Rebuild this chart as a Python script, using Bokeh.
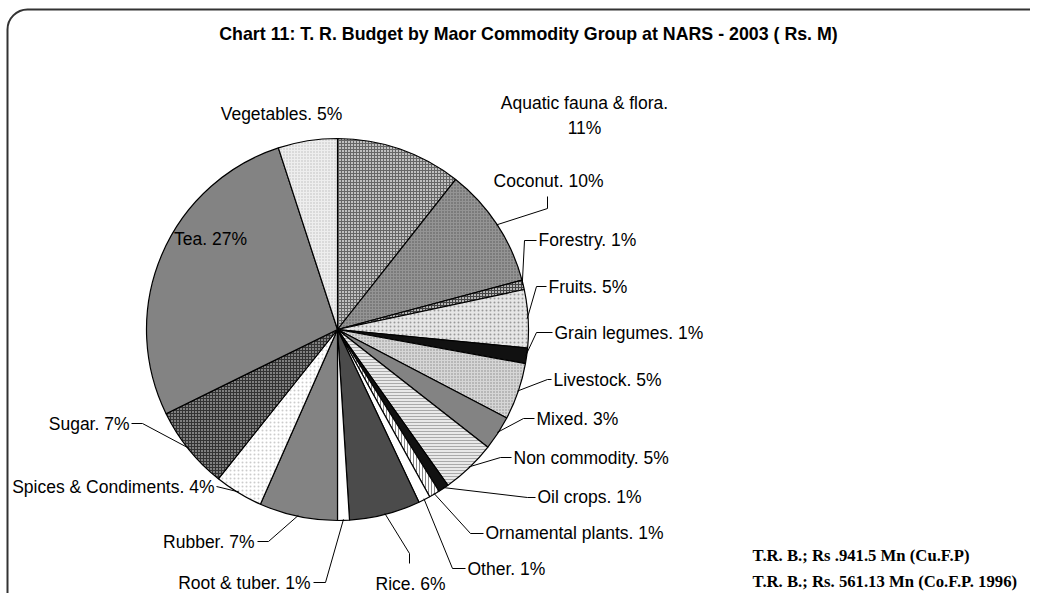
import numpy as np
from bokeh.plotting import figure
from bokeh.models import ColumnDataSource, BoxAnnotation, Range1d
from bokeh.core.properties import value
from bokeh.embed import file_html
from bokeh.resources import INLINE

# ---------------- data ----------------
categories = ["Aquatic fauna & flora", "Coconut", "Forestry", "Fruits", "Grain legumes",
              "Livestock", "Mixed", "Non commodity", "Oil crops", "Ornamental plants",
              "Other", "Rice", "Root & tuber", "Rubber", "Spices & Condiments",
              "Sugar", "Tea", "Vegetables"]
shares = [10.6, 10.2, 0.8, 4.9, 1.3, 4.8, 2.9, 4.6, 0.9, 0.9,
          1.0, 6.0, 1.0, 6.6, 4.1, 7.0, 27.2, 5.0]
title_text = "Chart 11: T. R. Budget by Maor Commodity Group at NARS - 2003 ( Rs. M)"
note_lines = ["T.R. B.; Rs .941.5 Mn (Cu.F.P)", "T.R. B.; Rs. 561.13 Mn (Co.F.P. 1996)"]

# ---------------- styles ----------------
fills   = ["#c0c0c0", "#949494", "#b4b4b4", "#e6e6e6", "#111111", "#d6d6d6", "#838383", "#e9e9e9",
           "#111111", "#ffffff", "#ffffff", "#4b4b4b", "#ffffff", "#838383", "#ffffff", "#808080",
           "#838383", "#eeeeee"]
hatches = ["cross", "dot", "cross", "dot", " ", "dot", " ", "horizontal_line",
           " ", "vertical_line", " ", " ", " ", " ", "dot", "cross", " ", "dot"]
hcolors = ["#666666", "#555555", "#444444", "#999999", "#000000", "#888888", "#000000", "#aaaaaa",
           "#000000", "#888888", "#000000", "#000000", "#000000", "#000000", "#cccccc", "#333333",
           "#000000", "#bbbbbb"]
hscales = [3, 3, 3, 4, 3, 3, 3, 3, 3, 3, 3, 3, 3, 3, 4, 3, 3, 3]

W, H = 1030, 593
def X(px): return px
def Y(py): return H - py

# label layout in page pixels: anchor, alignment, elbow point, end point of leader (None = no leader)
label_layout = [
    dict(pos=(584, 102), align="center", elbow=None, end=None, split=True),
    dict(pos=(548, 180), align="center", elbow=(547, 208), end=(547, 196)),
    dict(pos=(538, 239), align="left", elbow=(524, 240), end=(536, 240)),
    dict(pos=(548, 286), align="left", elbow=(536, 286), end=(546, 286)),
    dict(pos=(554, 332), align="left", elbow=(536, 332), end=(552, 332)),
    dict(pos=(553, 379), align="left", elbow=(547, 379), end=(551, 379)),
    dict(pos=(536, 418), align="left", elbow=(523, 418), end=(534, 418)),
    dict(pos=(513, 457), align="left", elbow=(500, 457), end=(511, 457)),
    dict(pos=(537, 496), align="left", elbow=(527, 497), end=(535, 497)),
    dict(pos=(485, 532), align="left", elbow=(470, 533), end=(483, 533)),
    dict(pos=(467, 568), align="left", elbow=(452, 568), end=(465, 568)),
    dict(pos=(410, 583), align="center", elbow=(409, 553), end=(409, 563)),
    dict(pos=(310, 582), align="right", elbow=(325, 582), end=(313, 582)),
    dict(pos=(254, 541), align="right", elbow=(268, 541), end=(257, 541)),
    dict(pos=(214, 486), align="right", elbow=(216, 486), end=(216, 486)),
    dict(pos=(129, 423), align="right", elbow=(142, 423), end=(131, 423)),
    dict(pos=(210, 238), align="center", elbow=None, end=None),
    dict(pos=(281, 113), align="center", elbow=None, end=None),
]

# ---------------- figure ----------------
p = figure(width=W, height=H, x_range=Range1d(0, W), y_range=Range1d(0, H),
           output_backend="svg", toolbar_location=None, min_border=0,
           x_axis_type=None, y_axis_type=None)
p.grid.visible = False
p.outline_line_color = None
p.background_fill_color = "white"
p.border_fill_color = "white"

# pie
cx, cy, R = X(337), Y(329), 191
vals = np.array(shares, dtype=float)
frac = vals / vals.sum()
cum_end = np.cumsum(frac)
cum_start = cum_end - frac
start = np.pi / 2 - 2 * np.pi * cum_end
end = np.pi / 2 - 2 * np.pi * cum_start
mid = (start + end) / 2

src = ColumnDataSource(dict(start=start, end=end, fill=fills, hatch=hatches,
                            hcolor=hcolors, hscale=hscales, cat=categories))
p.wedge(x=cx, y=cy, radius=R, start_angle="start", end_angle="end", source=src,
        fill_color="fill", line_color="black", line_width=1.2,
        hatch_pattern="hatch", hatch_color="hcolor", hatch_scale="hscale", hatch_weight=1)

# labels + leaders
tx, ty, tt, ta = [], [], [], []
lxs, lys = [], []
for i, (cat, lay) in enumerate(zip(categories, label_layout)):
    pct = int(round(frac[i] * 100))
    px, py = lay["pos"]
    if lay.get("split"):
        tx += [X(px), X(px)]; ty += [Y(py), Y(py + 25)]
        tt += [f"{cat}.", f"{pct}%"]; ta += [lay["align"], lay["align"]]
    else:
        tx.append(X(px)); ty.append(Y(py)); tt.append(f"{cat}. {pct}%"); ta.append(lay["align"])
    if lay["elbow"] is not None:
        sx = cx + (R - 1) * np.cos(mid[i])
        sy = cy + (R - 1) * np.sin(mid[i])
        ex, ey = lay["elbow"]
        fx, fy = lay["end"]
        lxs.append([sx, X(ex), X(fx)])
        lys.append([sy, Y(ey), Y(fy)])

p.multi_line(xs=lxs, ys=lys, line_color="black", line_width=1)
lsrc = ColumnDataSource(dict(x=tx, y=ty, text=tt, align=ta))
p.text(x="x", y="y", text="text", text_align="align", text_baseline="middle", source=lsrc,
       text_font=value("Liberation Sans"), text_font_size="17.5px", text_color="black")

# title
p.text(x=[X(528)], y=[Y(33)], text=[title_text], text_align="center", text_baseline="middle",
       text_font=value("Liberation Sans"), text_font_size="17.8px", text_font_style="bold",
       text_color="black")

# note text
p.text(x=[X(752), X(752)], y=[Y(555), Y(581)], text=note_lines, text_align="left",
       text_baseline="middle", text_font=value("Liberation Serif"), text_font_size="16.7px",
       text_font_style="bold", text_color="black")

# rounded border
p.add_layout(BoxAnnotation(left=X(7), right=W + 30, top=Y(9), bottom=-30, border_radius=20,
                           fill_alpha=0, line_color="#333333", line_alpha=1, line_width=2,
                           level="overlay"))

open("out.html", "w").write(file_html(p, INLINE))
